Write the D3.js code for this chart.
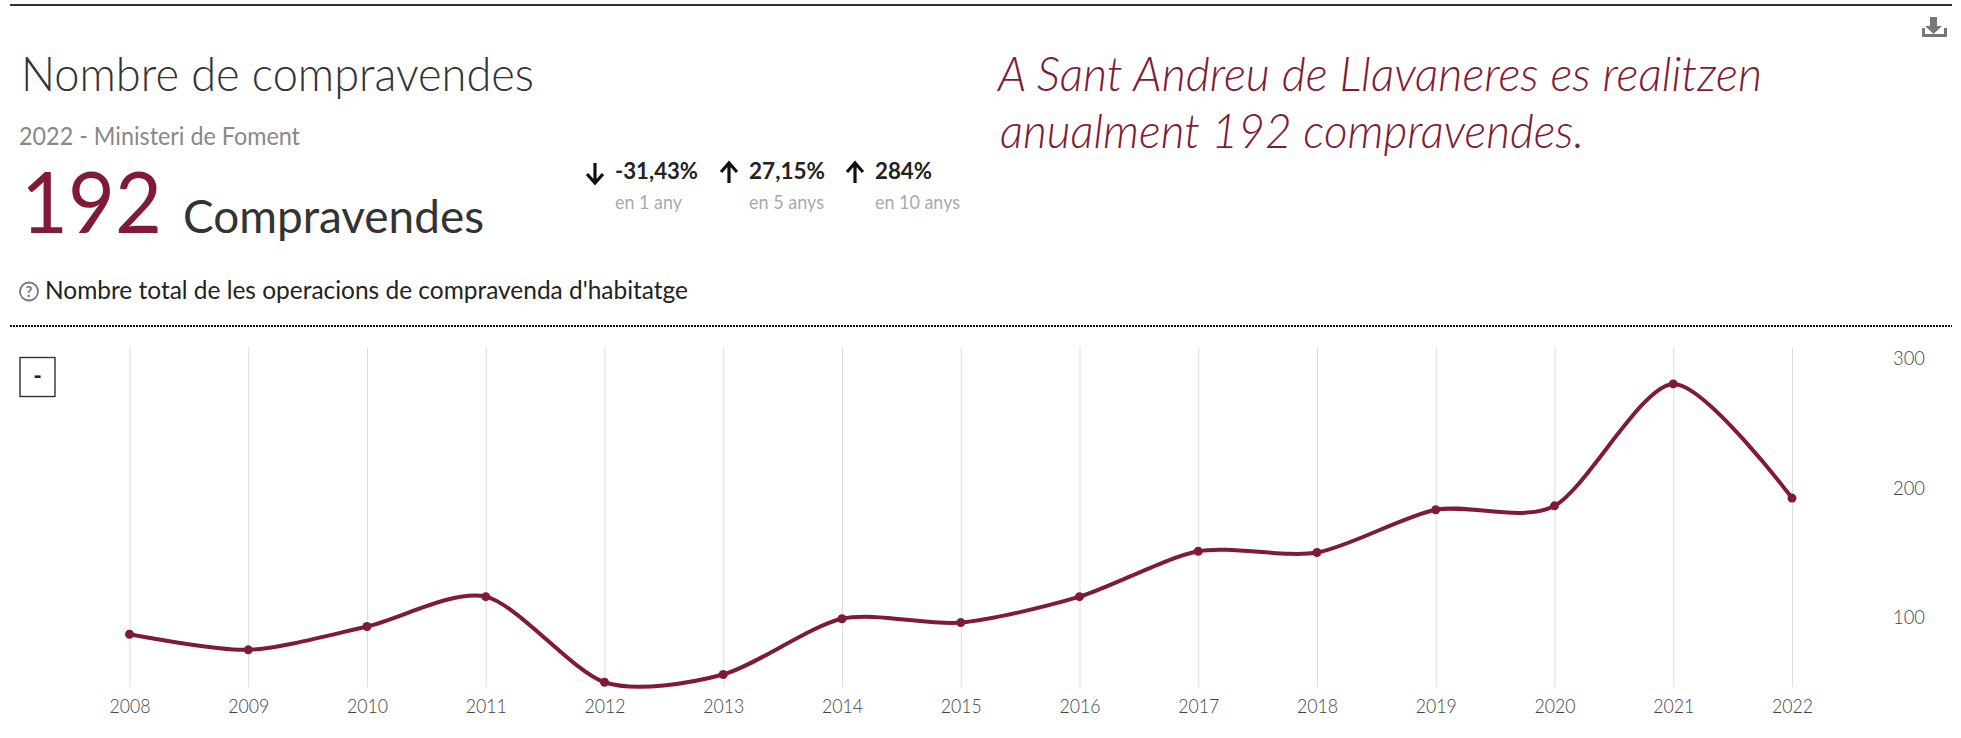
<!DOCTYPE html>
<html>
<head>
<meta charset="utf-8">
<script src="https://cdnjs.cloudflare.com/ajax/libs/d3/7.8.5/d3.min.js"></script>
<style>
  html, body { margin: 0; padding: 0; background: #fff; }
  svg { display: block; }
  text { font-family: "Lato", "Open Sans", sans-serif; }
</style>
</head>
<body>
<div id="chart"></div>
<script>
// Data
var years = [2008, 2009, 2010, 2011, 2012, 2013, 2014, 2015, 2016, 2017, 2018, 2019, 2020, 2021, 2022];
var sales = [87, 75, 93, 116, 50, 56, 99, 96, 116, 151, 150, 183, 186, 280, 192];
var yTicks = [100, 200, 300];
var changes = ["-31,43%", "27,15%", "284%"];
var changePeriods = ["en 1 any", "en 5 anys", "en 10 anys"];
var changeDirections = ["down", "up", "up"];

var w = 1961, h = 738;
var wine = "#7f1b36";

var svg = d3.select("#chart").append("svg")
  .attr("width", w)
  .attr("height", h);

// text helper, width is forced so the narrower original font lines up
function label(x, y, str, size, color, width, weight, style) {
  var t = svg.append("text")
    .attr("x", x)
    .attr("y", y)
    .attr("font-size", size)
    .attr("fill", color)
    .attr("font-weight", weight || 400)
    .text(str);
  if (style) t.attr("font-style", style);
  if (width) t.attr("textLength", width).attr("lengthAdjust", "spacingAndGlyphs");
  return t;
}

// rules
svg.append("line").attr("x1", 10).attr("x2", 1952).attr("y1", 5).attr("y2", 5)
  .attr("stroke", "#333").attr("stroke-width", 2);
svg.append("line").attr("x1", 10).attr("x2", 1952).attr("y1", 326).attr("y2", 326)
  .attr("stroke", "#111").attr("stroke-width", 2).attr("stroke-dasharray", "2 1");

// header
label(21, 91, "Nombre de compravendes", 48, "#333", 513, 300);
label(19, 145, "2022 - Ministeri de Foment", 25, "#888", 281, 400);
label(21, 233, "192", 86, wine, 141, 400);
label(183, 233, "Compravendes", 47, "#333", 301, 400);
label(998, 91, "A Sant Andreu de Llavaneres es realitzen", 48, wine, 764, 300, "italic");
label(1000, 148, "anualment 192 compravendes.", 48, wine, 584, 300, "italic");
label(45, 299, "Nombre total de les operacions de compravenda d'habitatge", 25, "#222", 643, 400);

// question mark icon
svg.append("circle").attr("cx", 29).attr("cy", 291.500).attr("r", 9)
  .attr("fill", "none").attr("stroke", "#777").attr("stroke-width", 1.8);
svg.append("text").attr("x", 29).attr("y", 297).attr("text-anchor", "middle")
  .attr("font-size", 15).attr("font-weight", 700).attr("fill", "#777").text("?");

// change indicators
var statX = [615, 749, 875];
var statW = [83, 76, 57];
var periodW = [67, 75, 85];
changes.forEach(function(d, i) {
  label(statX[i], 179, d, 23, "#222", statW[i], 700);
  label(statX[i], 209, changePeriods[i], 20, "#aaa", periodW[i], 400);
  var ax = statX[i] - 20;
  var dir = changeDirections[i] == "up" ? -1 : 1;
  var g = svg.append("g").attr("transform", "translate(" + ax + ",173) scale(1," + dir + ")");
  g.append("path").attr("d", "M0,-10V9M-8,1L0,10L8,1")
    .attr("fill", "none").attr("stroke", "#111").attr("stroke-width", 3.2);
});

// download icon
svg.append("path")
  .attr("d", "M1930,17h7v9h5l-8.500,8l-8.500,-8h5z")
  .attr("fill", "#777");
svg.append("path")
  .attr("d", "M1923.500,28v7.500h22v-7.500")
  .attr("fill", "none").attr("stroke", "#777").attr("stroke-width", 3);

// minus button
svg.append("rect").attr("x", 20).attr("y", 357.500).attr("width", 35).attr("height", 39)
  .attr("fill", "#fff").attr("stroke", "#333").attr("stroke-width", 1.4);
svg.append("text").attr("x", 37.500).attr("y", 384).attr("text-anchor", "middle")
  .attr("font-size", 22).attr("font-weight", 900).attr("fill", "#222").text("-");

// scales
var xScale = d3.scalePoint().domain(years).range([129.500, 1792]);
var yScale = d3.scaleLinear().domain([100, 300]).range([617.400, 358]);

// year axis with the vertical grid lines
var xAxis = d3.axisBottom(xScale).tickSize(-340).tickPadding(12);
var gx = svg.append("g").attr("transform", "translate(0,687)").call(xAxis);
gx.select(".domain").remove();
gx.selectAll("line").attr("stroke", "#ddd").attr("stroke-width", 1);
gx.selectAll("text")
  .attr("font-size", 20)
  .attr("fill", "#444")
  .attr("textLength", 41)
  .attr("lengthAdjust", "spacingAndGlyphs")
  .style("font-family", "Lato")
  .style("font-weight", 300);

// value axis
var yAxis = d3.axisRight(yScale).tickValues(yTicks).tickSize(0).tickPadding(0);
var gy = svg.append("g").attr("transform", "translate(1893,0)").call(yAxis);
gy.select(".domain").remove();
gy.selectAll("text")
  .attr("font-size", 20)
  .attr("fill", "#444")
  .attr("textLength", 32)
  .attr("lengthAdjust", "spacingAndGlyphs")
  .style("font-family", "Lato")
  .style("font-weight", 300);

// line and points
var line = d3.line()
  .x(function(d, i) { return xScale(years[i]); })
  .y(function(d) { return yScale(d); })
  .curve(d3.curveCardinal.tension(0.2));

svg.append("path")
  .datum(sales)
  .attr("d", line)
  .attr("fill", "none")
  .attr("stroke", wine)
  .attr("stroke-width", 4);

svg.selectAll(".dot")
  .data(sales)
  .enter()
  .append("circle")
  .attr("class", "dot")
  .attr("cx", function(d, i) { return xScale(years[i]); })
  .attr("cy", function(d) { return yScale(d); })
  .attr("r", 4.500)
  .attr("fill", wine);
</script>
</body>
</html>
